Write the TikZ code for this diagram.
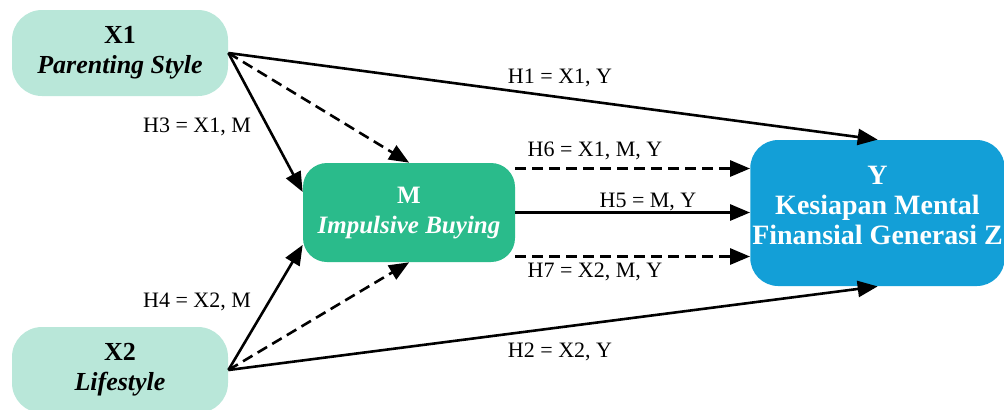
\documentclass[tikz,border=0pt]{standalone}
\usepackage{fontspec}
\setmainfont{Liberation Serif}
\usetikzlibrary{arrows}
\definecolor{mint}{HTML}{B9E7D9}
\definecolor{jade}{HTML}{2ABB8B}
\definecolor{sky}{HTML}{139FD7}

\begin{document}
\begin{tikzpicture}[x=0.5pt,y=-0.5pt,
  box/.style={rounded corners=15pt,align=center,font=\fontsize{13}{15}\selectfont\bfseries},
  lbl/.style={font=\fontsize{11}{13}\selectfont},
  path/.style={line width=1.3pt,-triangle 45},
  indirect/.style={path,dash pattern=on 5.5pt off 3pt}]
\useasboundingbox (0,0) rectangle (1004,409);
% variables
\node[box,fill=mint,minimum width=108pt,minimum height=43pt] (x1) at (120,53) {X1\\\textit{Parenting Style}};
\node[box,fill=mint,minimum width=108pt,minimum height=43pt] (x2) at (120,370) {X2\\\textit{Lifestyle}};
\node[box,fill=jade,text=white,minimum width=106pt,minimum height=49.5pt,rounded corners=12pt,font=\fontsize{12.5}{15}\selectfont\bfseries] (m) at (409,212.5) {M\\\textit{Impulsive Buying}};
\node[box,fill=sky,text=white,minimum width=125.5pt,minimum height=73pt,inner xsep=1pt,rounded corners=14pt,font=\fontsize{14}{15}\selectfont\bfseries] (y) at (877.5,213) {Y\\Kesiapan Mental\\Finansial Generasi Z\vphantom{g}\\[-7pt]};
% direct paths
\draw[path] (x1.east) -- (y.north);
\draw[path] (x2.east) -- (y.south);
\draw[path] (x1.east) -- (m.169);
\draw[path] (x2.east) -- (m.197);
\draw[path] (m.east) -- (m.east -| y.west);
% mediated paths
\draw[indirect] (x1.east) -- (m.north);
\draw[indirect] (x2.east) -- (m.south);
\draw[indirect] ([yshift=22pt]m.east) -- ([yshift=22pt]m.east -| y.west);
\draw[indirect] ([yshift=-22pt]m.east) -- ([yshift=-22pt]m.east -| y.west);
% labels
\node[lbl] (h1) at (560,78) {H1 = X1, Y};
\node[lbl] (h2) at (560,352) {H2 = X2, Y};
\node[lbl] (h3) at (197,127) {H3 = X1, M};
\node[lbl] (h4) at (197,302) {H4 = X2, M};
\node[lbl] (h5) at (648,202) {H5 = M, Y};
\node[lbl] (h6) at (595,151) {H6 = X1, M, Y};
\node[lbl] (h7) at (595,272) {H7 = X2, M, Y};
\end{tikzpicture}
\end{document}
